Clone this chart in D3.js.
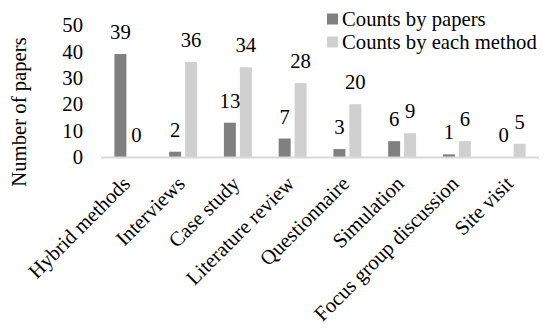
<!DOCTYPE html>
<html>
<head>
<meta charset="utf-8">
<script src="https://cdn.jsdelivr.net/npm/d3@7"></script>
<style>
  body { margin: 0; background: #fff; }
</style>
</head>
<body>
<svg id="chart" width="545" height="332"></svg>
<script>
var categories = ['Hybrid methods', 'Interviews', 'Case study', 'Literature review',
                  'Questionnaire', 'Simulation', 'Focus group discussion', 'Site visit'];
var seriesNames = ['Counts by papers', 'Counts by each method'];
var byPapers = [39, 2, 13, 7, 3, 6, 1, 0];
var byMethod = [0, 36, 34, 28, 20, 9, 6, 5];
var yTicks = [0, 10, 20, 30, 40, 50];
var colors = ['#808080', '#d0d0d0'];

var serif = 'Liberation Serif';
var fs = 20.7;
var svg = d3.select('#chart');
var plotLeft = 101, plotRight = 539, plotTop = 25, plotBase = 157;

var x0 = d3.scaleBand().domain(categories).range([plotLeft, plotRight])
    .paddingInner(0.49).paddingOuter(0.245);
var x1 = d3.scaleBand().domain(seriesNames).range([0, x0.bandwidth()])
    .paddingInner(0.25);
var y = d3.scaleLinear().domain([0, 50]).range([plotBase, plotTop]);

var rows = categories.map(function(c, i) {
  return { cat: c, vals: [byPapers[i], byMethod[i]] };
});

// y axis labels only, no line, no grid
var yAxis = svg.append('g')
    .attr('transform', 'translate(' + (plotLeft - 18) + ',0)')
    .call(d3.axisLeft(y).tickValues(yTicks).tickSize(0).tickPadding(0));
yAxis.attr('font-family', serif).attr('font-size', fs);
yAxis.select('.domain').remove();
yAxis.selectAll('text').attr('fill', '#000').attr('font-family', serif);

// bars
var groups = svg.append('g').selectAll('g')
    .data(rows).enter().append('g')
    .attr('transform', function(d) { return 'translate(' + x0(d.cat) + ',0)'; });

groups.selectAll('rect')
    .data(function(d) { return d.vals.map(function(v, k) { return { s: seriesNames[k], v: v, k: k }; }); })
    .enter().append('rect')
    .attr('x', function(d) { return x1(d.s); })
    .attr('width', x1.bandwidth())
    .attr('y', function(d) { return y(d.v); })
    .attr('height', function(d) { return plotBase - y(d.v); })
    .attr('fill', function(d) { return colors[d.k]; });

groups.selectAll('text')
    .data(function(d) { return d.vals.map(function(v, k) { return { s: seriesNames[k], v: v }; }); })
    .enter().append('text')
    .attr('x', function(d) { return x1(d.s) + x1.bandwidth() / 2; })
    .attr('y', function(d) { return y(d.v) - 15; })
    .attr('text-anchor', 'middle')
    .attr('font-family', serif)
    .attr('font-size', fs)
    .text(function(d) { return d.v; });

// x axis
var xAxis = svg.append('g')
    .attr('transform', 'translate(0,' + plotBase + ')')
    .call(d3.axisBottom(x0).tickSize(0).tickPadding(0));
xAxis.attr('font-family', serif).attr('font-size', fs);
xAxis.select('.domain')
    .attr('d', 'M' + plotLeft + ',0.5H' + plotRight)
    .attr('stroke', '#d9d9d9')
    .attr('stroke-width', 2);
xAxis.selectAll('text')
    .attr('fill', '#000')
    .attr('font-family', serif)
    .attr('text-anchor', 'end')
    .attr('dy', 0)
    .attr('transform', 'translate(3,28) rotate(-45)');

// y title
svg.append('text')
    .attr('transform', 'translate(26,112) rotate(-90)')
    .attr('text-anchor', 'middle')
    .attr('font-family', serif)
    .attr('font-size', fs)
    .text('Number of papers');

// legend
var legend = svg.append('g').selectAll('g')
    .data(seriesNames).enter().append('g')
    .attr('transform', function(d, i) { return 'translate(327,' + (19 + i * 23) + ')'; });
legend.append('rect')
    .attr('x', 0).attr('y', -5.5).attr('width', 11).attr('height', 11)
    .attr('fill', function(d, i) { return colors[i]; });
legend.append('text')
    .attr('x', 15).attr('y', 0).attr('dy', '0.35em')
    .attr('font-family', serif)
    .attr('font-size', fs)
    .text(function(d) { return d; });
</script>
</body>
</html>
